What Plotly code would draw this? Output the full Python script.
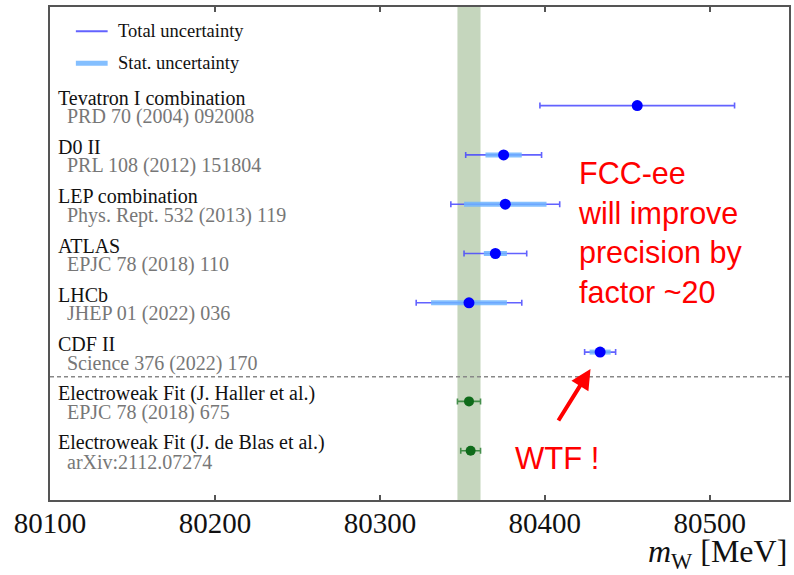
import plotly.graph_objects as go

# W boson mass measurements (MeV)
experiments = ["Tevatron I combination", "D0 II", "LEP combination", "ATLAS",
               "LHCb", "CDF II"]
references = ["PRD 70 (2004) 092008", "PRL 108 (2012) 151804",
              "Phys. Rept. 532 (2013) 119", "EPJC 78 (2018) 110",
              "JHEP 01 (2022) 036", "Science 376 (2022) 170"]
mw_values = [80456, 80375, 80376, 80370, 80354, 80433.5]
total_err = [59, 23, 33, 19, 32, 9.4]
stat_err = [0, 11, 25, 7, 23, 6.4]

fits = ["Electroweak Fit (J. Haller et al.)", "Electroweak Fit (J. de Blas et al.)"]
fit_refs = ["EPJC 78 (2018) 675", "arXiv:2112.07274"]
fit_values = [80354, 80355]
fit_err = [7, 6]

# Electroweak-fit band
band_center = 80354
band_halfwidth = 7

x_range = [80100, 80548]
tick_vals = [80100, 80200, 80300, 80400, 80500]
tick_text = ["80100", "80200", "80300", "80400", "80500"]

# Row positions (top to bottom)
exp_rows = [7, 6, 5, 4, 3, 2]
fit_rows = [1, 0]
separator_row = 1.5

SERIF = "Liberation Serif"
SANS = "Liberation Sans"
BLUE = "#0000ff"
TOTAL_COL = "rgba(70,70,255,0.85)"
STAT_COL = "rgba(110,180,255,0.85)"
GREEN = "#0f6b1a"

fig = go.Figure()

# Total uncertainty
fig.add_trace(go.Scatter(
    x=mw_values, y=exp_rows, mode="markers",
    marker=dict(size=1, color="rgba(0,0,0,0)"),
    error_x=dict(type="data", array=total_err, color=TOTAL_COL,
                 thickness=1.6, width=3),
    showlegend=False, hoverinfo="skip"))

# Statistical uncertainty
fig.add_trace(go.Scatter(
    x=mw_values, y=exp_rows, mode="markers",
    marker=dict(size=1, color="rgba(0,0,0,0)"),
    error_x=dict(type="data", array=stat_err, color=STAT_COL,
                 thickness=5, width=0),
    showlegend=False, hoverinfo="skip"))

# Central values
fig.add_trace(go.Scatter(
    x=mw_values, y=exp_rows, mode="markers",
    marker=dict(size=11, color=BLUE), showlegend=False))

# Electroweak fits
fig.add_trace(go.Scatter(
    x=fit_values, y=fit_rows, mode="markers",
    marker=dict(size=10, color=GREEN),
    error_x=dict(type="data", array=fit_err, color="rgba(30,120,40,0.8)",
                 thickness=1.6, width=3),
    showlegend=False))

annotations = []
for name, ref, row in zip(experiments + fits, references + fit_refs,
                          exp_rows + fit_rows):
    annotations.append(dict(x=0, xref="paper", y=row, yref="y", text=name,
                            xanchor="left", yanchor="middle", xshift=6, yshift=8,
                            showarrow=False,
                            font=dict(family=SERIF, size=20, color="#111111")))
    annotations.append(dict(x=0, xref="paper", y=row, yref="y", text=ref,
                            xanchor="left", yanchor="middle", xshift=15, yshift=-11,
                            showarrow=False,
                            font=dict(family=SERIF, size=20, color="#777777")))

# Legend
legend_items = [("Total uncertainty", TOTAL_COL, 2, 0.951),
                ("Stat. uncertainty", STAT_COL, 5, 0.886)]
for label, col, w, ypos in legend_items:
    annotations.append(dict(x=0.089, xref="paper", y=ypos, yref="paper",
                            text=label, xanchor="left", yanchor="middle",
                            showarrow=False,
                            font=dict(family=SERIF, size=18.5, color="#111111")))

# Axis title
annotations.append(dict(x=1, xref="paper", y=-0.108, yref="paper",
                        text="<i>m</i><sub>W</sub> [MeV]", xanchor="right",
                        yanchor="middle", showarrow=False,
                        font=dict(family=SERIF, size=32, color="#111111")))

# Commentary
annotations.append(dict(x=0.712, xref="paper", y=0.5426, yref="paper",
                        text="FCC-ee<br>will improve<br>precision by<br>factor ~20",
                        xanchor="left", yanchor="middle", align="left",
                        showarrow=False,
                        font=dict(family=SANS, size=30.5, color="#ff0000")))
annotations.append(dict(x=0.6265, xref="paper", y=0.085, yref="paper",
                        text="WTF !", xanchor="left", yanchor="middle",
                        showarrow=False,
                        font=dict(family=SANS, size=31, color="#ff0000")))
annotations.append(dict(x=0.7314, xref="paper", y=0.2657, yref="paper",
                        ax=-33, ay=53, text="", showarrow=True,
                        arrowhead=2, arrowsize=1, arrowwidth=4,
                        arrowcolor="#ff0000"))

fig.update_layout(
    width=794, height=575,
    margin=dict(l=50, r=3, t=7, b=75),
    paper_bgcolor="white", plot_bgcolor="white",
    annotations=annotations,
    xaxis=dict(range=x_range, tickvals=tick_vals, ticktext=tick_text,
               ticks="inside", ticklen=5, ticklabelstandoff=-4,
               tickwidth=1.5, tickcolor="#555555",
               showline=True, linecolor="#555555", linewidth=2, mirror="ticks",
               showgrid=False, zeroline=False,
               tickfont=dict(family=SERIF, size=29, color="#111111")),
    yaxis=dict(range=[-1, 9], showticklabels=False, ticks="",
               showline=True, linecolor="#555555", linewidth=2, mirror=True,
               showgrid=False, zeroline=False),
)

# Vertical band for the electroweak fit
fig.add_vrect(x0=band_center - band_halfwidth, x1=band_center + band_halfwidth,
              fillcolor="rgba(150,180,135,0.55)", line_width=0, layer="below")

# Separator between measurements and fits
fig.add_hline(y=separator_row,
              line=dict(color="#888888", width=1.3, dash="4px,3px"))

# Legend sample lines
for label, col, w, ypos in legend_items:
    fig.add_shape(type="line", xref="paper", yref="paper",
                  x0=0.035, x1=0.078, y0=ypos, y1=ypos,
                  line=dict(color=col, width=w))

fig.write_html("out.html")
